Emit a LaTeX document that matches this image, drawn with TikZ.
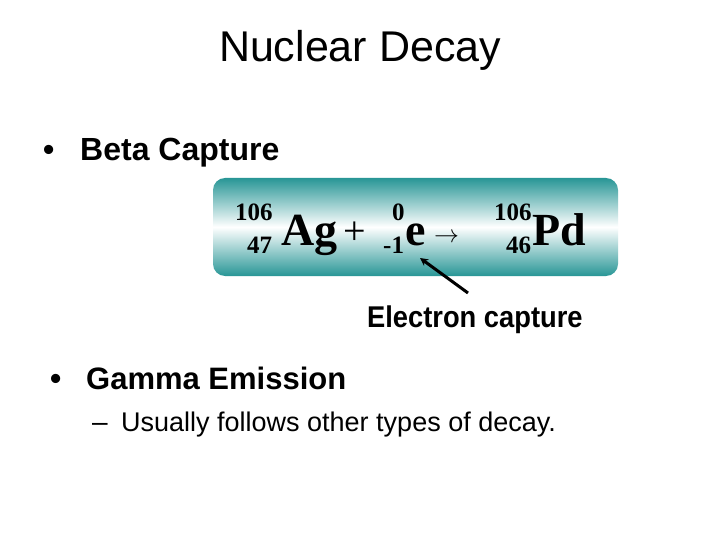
\documentclass[tikz,border=0pt]{standalone}
\usepackage{fontspec}
\setmainfont{Liberation Sans}
\newfontfamily\eqfont{Liberation Serif}
\usetikzlibrary{arrows.meta}
\definecolor{tealc}{RGB}{40,150,150}
\begin{document}
\begin{tikzpicture}[x=1pt,y=-1pt,
  txt/.style={inner sep=0pt,anchor=base west},
  eq/.style={inner sep=0pt,anchor=base west,font=\eqfont\bfseries}]
\useasboundingbox (0,0) rectangle (720,540);
\fill[white] (0,0) rectangle (720,540);
\node[inner sep=0pt,anchor=base,font=\fontsize{43}{48}\selectfont] (title) at (360,62) {Nuclear Decay};
\node[txt,font=\fontsize{32}{36}\selectfont\bfseries] (d1) at (43,161) {•};
\node[txt,font=\fontsize{32}{36}\selectfont\bfseries] (b1) at (80,161) {Beta Capture};
% box
\shade[rounded corners=12pt,top color=tealc,bottom color=tealc,middle color=white] (213,178) rectangle (618,276);
\node[eq,font=\eqfont\bfseries\fontsize{25}{28}\selectfont] (n1) at (235,221) {106};
\node[eq,font=\eqfont\bfseries\fontsize{25}{28}\selectfont] (z1) at (247,253) {47};
\node[eq,font=\eqfont\bfseries\fontsize{46}{50}\selectfont] (ag) at (281,245) {Ag};
\node[eq,font=\eqfont\fontsize{40}{44}\selectfont] (plus) at (343,244) {+};
\node[eq,font=\eqfont\bfseries\fontsize{25}{28}\selectfont] (n2) at (392,221) {0};
\node[eq,font=\eqfont\bfseries\fontsize{25}{28}\selectfont] (z2) at (383,253) {-1};
\node[eq,font=\eqfont\bfseries\fontsize{46}{50}\selectfont] (e) at (405,245) {e};
\node[eq,font=\fontsize{44}{48}\selectfont] (arr) at (434,243) {$\rightarrow$};
\node[eq,font=\eqfont\bfseries\fontsize{25}{28}\selectfont] (n3) at (494,221) {106};
\node[eq,font=\eqfont\bfseries\fontsize{25}{28}\selectfont] (z3) at (506,253) {46};
\node[eq,font=\eqfont\bfseries\fontsize{46}{50}\selectfont] (pd) at (532,245) {Pd};
\node[txt,font=\fontsize{30}{34}\selectfont\bfseries,xscale=0.91] (ec) at (367,327) {Electron capture};
\coordinate (tail) at (468,293);
\coordinate (tip) at (420,258);
\draw[line width=3pt,-{Stealth[length=8pt,width=8pt]}] (tail) -- (tip);
\node[txt,font=\fontsize{32}{36}\selectfont\bfseries] (d2) at (50,389) {•};
\node[txt,font=\fontsize{31}{36}\selectfont\bfseries] (b2) at (86,389) {Gamma Emission};
\node[txt,font=\fontsize{28}{32}\selectfont] (dash) at (92,431) {–};
\node[txt,font=\fontsize{27}{32}\selectfont] (sub) at (121,431) {Usually follows other types of decay.};
\end{tikzpicture}
\end{document}
